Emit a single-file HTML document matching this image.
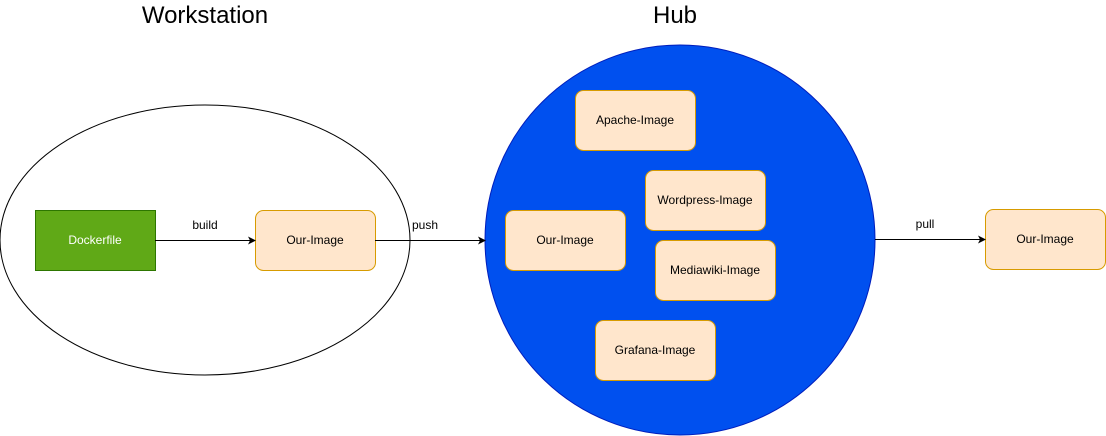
<!DOCTYPE html>
<html><head><meta charset="utf-8"><style>html,body{margin:0;padding:0;background:#fff}svg{display:block}</style></head>
<body>
<svg width="1106" height="436" viewBox="0 0 1106 436" xmlns="http://www.w3.org/2000/svg" font-family="Liberation Sans, sans-serif">
<defs><marker id="a" markerWidth="8" markerHeight="8" refX="7" refY="4" orient="auto" markerUnits="userSpaceOnUse"><path d="M0,0 L8,4 L0,8 L2,4 Z" fill="#000"/></marker></defs>
<text x="205" y="23" font-size="24" text-anchor="middle">Workstation</text>
<text x="675" y="23" font-size="24" text-anchor="middle">Hub</text>
<ellipse cx="205" cy="240" rx="205" ry="135" fill="#fff" stroke="#000"/>
<ellipse cx="680" cy="240" rx="195" ry="195" fill="#0050EF" stroke="#001DBC"/>
<rect x="35.5" y="210.5" width="120" height="60" fill="#60A917" stroke="#2D7600"/>
<text x="95" y="244" font-size="12" fill="#fff" text-anchor="middle">Dockerfile</text>
<g fill="#FFE6CC" stroke="#D79B00">
<rect x="255.5" y="210.5" width="120" height="60" rx="8"/>
<rect x="505.5" y="210.5" width="120" height="60" rx="8"/>
<rect x="575.5" y="90.5" width="120" height="60" rx="8"/>
<rect x="645.5" y="170.5" width="120" height="60" rx="8"/>
<rect x="655.5" y="240.5" width="120" height="60" rx="8"/>
<rect x="595.5" y="320.5" width="120" height="60" rx="8"/>
<rect x="985.5" y="209.5" width="120" height="60" rx="8"/>
</g>
<g font-size="12" text-anchor="middle" fill="#000">
<text x="315" y="244">Our-Image</text>
<text x="565" y="244">Our-Image</text>
<text x="635" y="124">Apache-Image</text>
<text x="705" y="204">Wordpress-Image</text>
<text x="715" y="274">Mediawiki-Image</text>
<text x="655" y="354">Grafana-Image</text>
<text x="1045" y="243">Our-Image</text>
<text x="205" y="229">build</text>
<text x="425" y="229">push</text>
<text x="925" y="228">pull</text>
</g>
<g stroke="#000" fill="none">
<line x1="155" y1="240.5" x2="255" y2="240.5" marker-end="url(#a)"/>
<line x1="375" y1="240.5" x2="485" y2="240.5" marker-end="url(#a)"/>
<line x1="875" y1="239.5" x2="985" y2="239.5" marker-end="url(#a)"/>
</g>
</svg>
</body></html>
